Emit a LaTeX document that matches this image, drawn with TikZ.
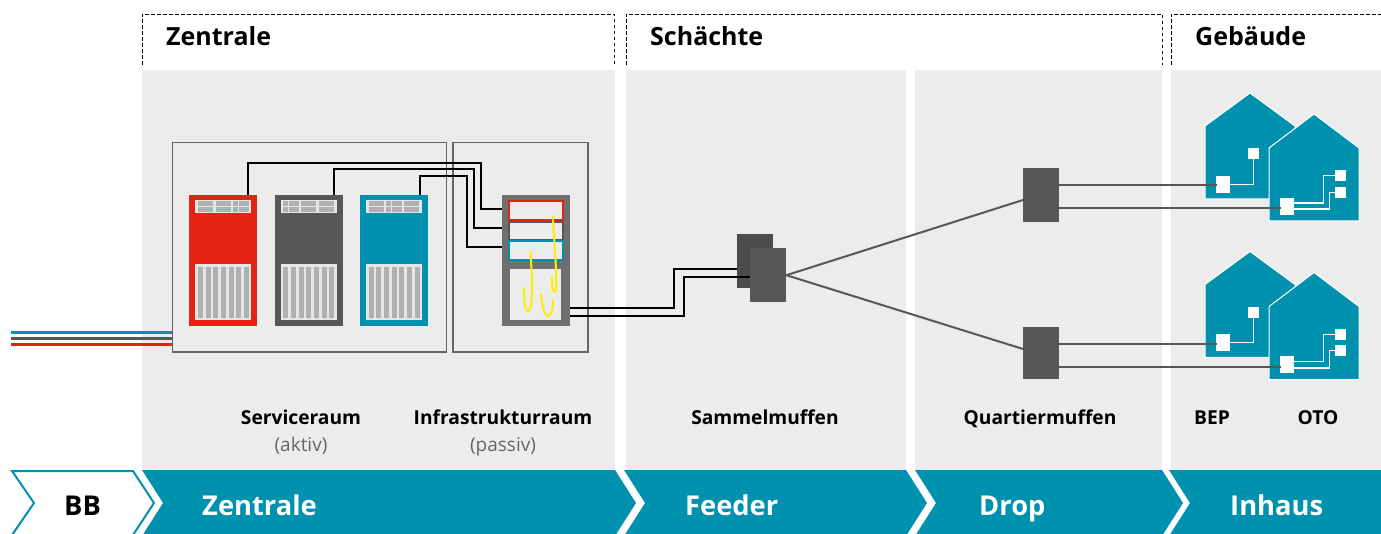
\documentclass[tikz,border=0pt]{standalone}
\usepackage{fontspec}
\setmainfont{Open Sans}
\definecolor{panelgrey}{HTML}{ECECEC}
\definecolor{netteal}{HTML}{0091AF}
\definecolor{netred}{HTML}{E52312}
\definecolor{netdark}{HTML}{575756}
\definecolor{netback}{HTML}{4C4C4B}
\definecolor{rackgrey}{HTML}{6F6F6F}
\definecolor{bargrey}{HTML}{B0B0B0}
\definecolor{slotgrey}{HTML}{E6E6E6}
\definecolor{cablegelb}{HTML}{FFED00}
\tikzset{
	panel/.style={fill=panelgrey,draw=none},
	roomframe/.style={draw=black!60,line width=1.4pt,fill=none},
	rack/.style={draw=none,inner sep=0pt,minimum width=68pt,minimum height=131pt},
	muffe/.style={draw=none,inner sep=0pt,minimum width=36pt},
	patch/.style={draw=black,line width=2pt},
	feeder/.style={draw=netdark,line width=2pt},
	house/.style={fill=netteal,draw=white,line width=1pt,line join=miter},
	port/.style={fill=white,draw=none,inner sep=0pt},
	portline/.style={draw=white,line width=1.2pt},
	fibre/.style={draw=cablegelb,line width=2pt,line cap=round},
	header/.style={draw=black,line width=0.8pt,dash pattern=on 3.5pt off 2.5pt},
	headtext/.style={font=\bfseries\fontsize{25}{30}\selectfont,anchor=base west,inner sep=0pt},
	roomtext/.style={font=\bfseries\fontsize{19.2}{23}\selectfont,anchor=base,inner sep=0pt},
	subtext/.style={font=\fontsize{19}{23}\selectfont,text=black!60,anchor=base,inner sep=0pt},
	chevron/.style={fill=netteal,draw=none},
	chevtext/.style={font=\bfseries\fontsize{27.3}{32}\selectfont,text=white,anchor=base west,inner sep=0pt}
}
\begin{document}
\begin{tikzpicture}[x=1pt,y=-1pt]
	\clip (0,0) rectangle (1381,534);
	% dashed headers
	\draw[header] (142,65) -- (142,14) -- (614,14) -- (614,65);
	\draw[header] (626,65) -- (626,14) -- (1162,14) -- (1162,65);
	\draw[header] (1171,65) -- (1171,14) -- (1381,14);
	\node[headtext] (headzentrale) at (166,46) {Zentrale};
	\node[headtext] (headschaechte) at (650,46) {Schächte};
	\node[headtext] (headgebaeude) at (1195,46) {Gebäude};
	% grey panels
	\fill[panel] (142,70) rectangle (615,470);
	\fill[panel] (626,70) rectangle (906,470);
	\fill[panel] (915,70) rectangle (1162,470);
	\fill[panel] (1171,70) rectangle (1381,470);
	% rooms
	\draw[roomframe] (172.5,142.5) rectangle (446.5,352);
	\draw[roomframe] (453,142.5) rectangle (588,352);
	% incoming lines
	\coordinate (intop) at (11,332.5);
	\coordinate (inmid) at (11,338.5);
	\coordinate (inlow) at (11,344.5);
	\draw[netteal,line width=2.4pt] (intop) -- (172,332.5);
	\draw[netdark,line width=2.4pt] (inmid) -- (172,338.5);
	\draw[netred,line width=2.4pt]  (inlow) -- (172,344.5);
	% active racks
	\foreach \rackname/\rackx/\rackcol in {rackred/189/netred,rackdark/275/netdark,rackteal/360/netteal}{
		\node[rack,fill=\rackcol,anchor=north west] (\rackname) at (\rackx,195) {};
		\fill[slotgrey] (\rackx+6,200) rectangle (\rackx+62,213);
		\fill[slotgrey] (\rackx+6,264) rectangle (\rackx+62,320);
	}
	\foreach \barx in {198,206,213,221,229,236,244,283,291,299,306,314,322,329,369,376,384,392,399,407,415}
		\fill[bargrey] (\barx,267) rectangle (\barx+5,318);
	\foreach \cola/\colb in {198/213,216/231,233/238,239/249,283/288,289/299,301/316,319/334,369/384,386/391,392/402,404/419}{
		\fill[bargrey] (\cola,201) rectangle (\colb,206);
		\fill[bargrey] (\cola,207) rectangle (\colb,212);
	}
	% passive rack
	\node[rack,fill=rackgrey,anchor=north west] (rackpassive) at (502,195) {};
	\node[draw=netdark,fill=panelgrey,line width=2pt,inner sep=0pt,minimum width=54pt,minimum height=18pt] (slotdark) at (536,231) {};
	\node[draw=netred,fill=panelgrey,line width=2pt,inner sep=0pt,minimum width=54pt,minimum height=19pt] (slotred) at (536,210.5) {};
	\node[draw=netteal,fill=panelgrey,line width=2pt,inner sep=0pt,minimum width=54pt,minimum height=19pt] (slotteal) at (536,251) {};
	\fill[panelgrey] (510,269) rectangle (561,320);
	% fibres
	\draw[fibre] (552.7,216) .. controls (555,250) and (558,292) .. (555,292) .. controls (552,292) and (552,285) .. (552,278);
	\draw[fibre] (530.3,252) .. controls (533,285) and (533,311) .. (528,311) .. controls (524,311) and (524,297) .. (524,288);
	\draw[fibre] (541,294) .. controls (542,308) and (545,316) .. (548,316) .. controls (552,316) and (553,308) .. (553,300);
	% patch cables
	\coordinate (redout) at (248,195);
	\coordinate (darkout) at (334,195);
	\coordinate (tealout) at (420,195);
	\coordinate (passivered) at (502,209);
	\coordinate (passivedark) at (502,228);
	\coordinate (passiveteal) at (502,247);
	\draw[patch] (redout) |- (481,163) |- (passivered);
	\draw[patch] (darkout) |- (474,169) |- (passivedark);
	\draw[patch] (tealout) |- (467,176) |- (passiveteal);
	% muffen
	\node[muffe,fill=netback,minimum height=54pt,anchor=north west] (sammelback) at (737,234) {};
	\coordinate (feedin) at (570,308);
	\coordinate (feedinb) at (570,316);
	\draw[patch] (feedin) -- (674,308) |- (sammelback.west |- 0,269);
	\node[muffe,fill=netdark,minimum height=54pt,anchor=north west] (sammelfront) at (750,248) {};
	\draw[patch] (feedinb) -- (684,316) |- (sammelfront.west |- 0,277);
	\node[muffe,fill=netdark,minimum height=54pt,anchor=north west] (quartiertop) at (1023,168) {};
	\node[muffe,fill=netdark,minimum height=52pt,anchor=north west] (quartierlow) at (1023,327) {};
	\draw[feeder] (sammelfront.east) -- (quartiertop.west |- 0,200);
	\draw[feeder] (sammelfront.east) -- (quartierlow.west |- 0,349);
	% houses
	\foreach \houseshift in {0,158.5}{
		\begin{scope}[yshift=-\houseshift pt]
			\draw[house] (1205,126) -- (1250,93) -- (1295,126) -- (1295,199) -- (1205,199) -- cycle;
			\draw[house] (1269,148) -- (1314,114) -- (1359,148) -- (1359,221) -- (1269,221) -- cycle;
		\end{scope}
	}
	% top houses
	\node[port,minimum width=14pt,minimum height=17pt] (beptop) at (1223,184.5) {};
	\node[port,minimum width=11pt,minimum height=11pt] (beptopa) at (1253.5,153.5) {};
	\node[port,minimum width=14pt,minimum height=17pt] (ototop) at (1287,206.5) {};
	\node[port,minimum width=11pt,minimum height=11pt] (ototopa) at (1340.5,175.5) {};
	\node[port,minimum width=11pt,minimum height=11pt] (ototopb) at (1340.5,192.5) {};
	\draw[portline] (beptop.east) -| (beptopa.south);
	\draw[portline] (ototop.east |- 0,203) -| (1323.5,175.5) -- (ototopa.west);
	\draw[portline] (ototop.east |- 0,209) -| (1329.5,192.5) -- (ototopb.west);
	\draw[feeder] (quartiertop.east |- 0,185) -- (1217,185);
	\draw[feeder] (quartiertop.east |- 0,208) -- (1281,208);
	% low houses
	\node[port,minimum width=14pt,minimum height=17pt] (beplow) at (1223,342.5) {};
	\node[port,minimum width=11pt,minimum height=11pt] (beplowa) at (1253.5,312.5) {};
	\node[port,minimum width=14pt,minimum height=17pt] (otolow) at (1287,364.5) {};
	\node[port,minimum width=11pt,minimum height=11pt] (otolowa) at (1340.5,334.5) {};
	\node[port,minimum width=11pt,minimum height=11pt] (otolowb) at (1340.5,350.5) {};
	\draw[portline] (beplow.east) -| (beplowa.south);
	\draw[portline] (otolow.east |- 0,361.5) -| (1323.5,334.5) -- (otolowa.west);
	\draw[portline] (otolow.east |- 0,368) -| (1329.5,350.5) -- (otolowb.west);
	\draw[feeder] (quartierlow.east |- 0,344) -- (1217,344);
	\draw[feeder] (quartierlow.east |- 0,367) -- (1281,367);
	% labels
	\node[roomtext] (txtservice) at (301,424) {Serviceraum};
	\node[subtext] (txtaktiv) at (301,451) {(aktiv)};
	\node[roomtext] (txtinfra) at (503,424) {Infrastrukturraum};
	\node[subtext] (txtpassiv) at (503,451) {(passiv)};
	\node[roomtext] (txtsammel) at (765,424) {Sammelmuffen};
	\node[roomtext] (txtquartier) at (1040,424) {Quartiermuffen};
	\node[roomtext] (txtbep) at (1212,424) {BEP};
	\node[roomtext] (txtoto) at (1318,424) {OTO};
	% chevron bar
	\draw[netteal,fill=white,line width=2pt] (12,471) -- (133,471) -- (154,503) -- (133,535) -- (12,535) -- (34,503) -- cycle;
	\fill[chevron] (142,470) -- (615,470) -- (636,503) -- (615,536) -- (142,536) -- (163,503) -- cycle;
	\fill[chevron] (624,470) -- (906,470) -- (927,503) -- (906,536) -- (624,536) -- (645,503) -- cycle;
	\fill[chevron] (915,470) -- (1162,470) -- (1183,503) -- (1162,536) -- (915,536) -- (936,503) -- cycle;
	\fill[chevron] (1169,470) -- (1381,470) -- (1381,536) -- (1169,536) -- (1190,503) -- cycle;
	\node[chevtext,text=black] (barbb) at (64,515) {BB};
	\node[chevtext] (barzentrale) at (202,515) {Zentrale};
	\node[chevtext] (barfeeder) at (685,515) {Feeder};
	\node[chevtext] (bardrop) at (979,515) {Drop};
	\node[chevtext] (barinhaus) at (1230,515) {Inhaus};
\end{tikzpicture}
\end{document}
